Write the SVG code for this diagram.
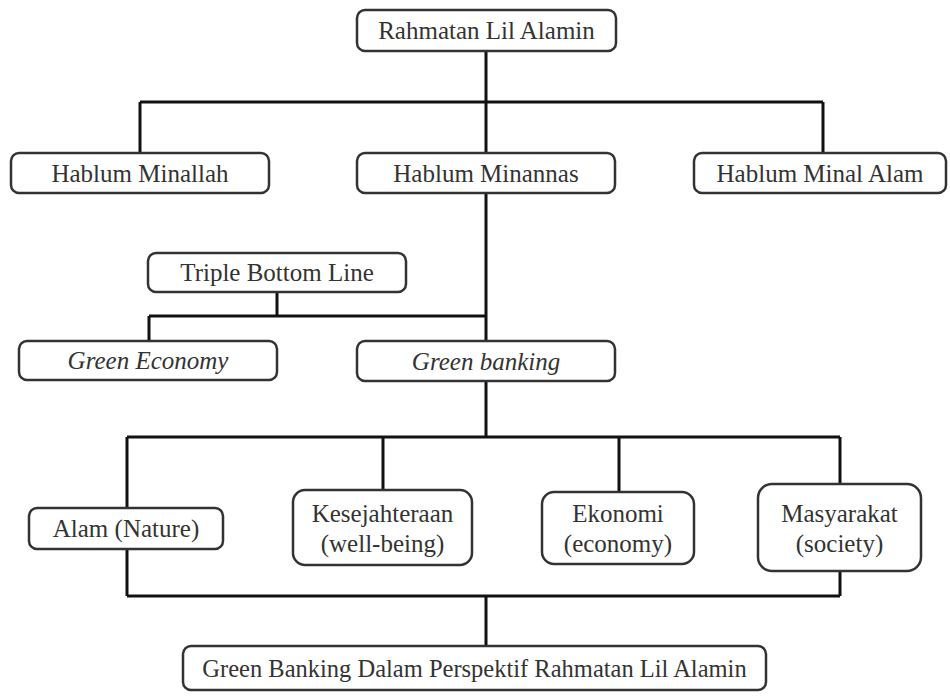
<svg xmlns="http://www.w3.org/2000/svg" width="950" height="700" viewBox="0 0 950 700">
<style>
.box{fill:#fff;stroke:#333;stroke-width:2.5}
.t{font-family:"Liberation Serif","Times New Roman",serif;font-size:25px;fill:#333;text-anchor:middle}
.i{font-style:italic}
.c{fill:none;stroke:#111;stroke-width:3}
</style>
<rect width="950" height="700" fill="#fff"/>
<g id="connectors">
<path class="c" d="M486 51V102M140 102H823M140 102V153M486 102V153M823 102V153"/>
<path class="c" d="M486 193V341M277 292V316M149 316H486M149 316V341"/>
<path class="c" d="M486 381V437M127 437H840M127 437V508M383 437V490M619 437V492M840 437V484"/>
<path class="c" d="M127 549V596M840 571V596M127 596H840M486 596V646"/>
</g>
<g id="n1"><rect class="box" x="357" y="10" width="259" height="41" rx="8"/><text class="t" x="486.5" y="39">Rahmatan Lil Alamin</text></g>
<g id="n2"><rect class="box" x="11" y="153" width="258" height="40" rx="8"/><text class="t" x="140" y="182">Hablum Minallah</text></g>
<g id="n3"><rect class="box" x="357" y="153" width="258" height="40" rx="8"/><text class="t" x="486" y="182">Hablum Minannas</text></g>
<g id="n4"><rect class="box" x="694" y="153" width="252" height="40" rx="8"/><text class="t" x="820" y="182">Hablum Minal Alam</text></g>
<g id="n5"><rect class="box" x="148" y="253" width="258" height="39" rx="8"/><text class="t" x="277" y="281">Triple Bottom Line</text></g>
<g id="n6"><rect class="box" x="19" y="341" width="258" height="39" rx="8"/><text class="t i" x="148" y="369">Green Economy</text></g>
<g id="n7"><rect class="box" x="357" y="341" width="258" height="40" rx="8"/><text class="t i" x="486" y="370">Green banking</text></g>
<g id="n8"><rect class="box" x="29" y="508" width="194" height="41" rx="8"/><text class="t" x="126" y="537">Alam (Nature)</text></g>
<g id="n9"><rect class="box" x="293" y="490" width="179" height="75" rx="12"/><text class="t" x="382.5" y="522">Kesejahteraan</text><text class="t" x="382.5" y="552">(well-being)</text></g>
<g id="n10"><rect class="box" x="542" y="492" width="152" height="72" rx="12"/><text class="t" x="618" y="522">Ekonomi</text><text class="t" x="618" y="552">(economy)</text></g>
<g id="n11"><rect class="box" x="758" y="484" width="163" height="87" rx="14"/><text class="t" x="839.5" y="522">Masyarakat</text><text class="t" x="839.5" y="552">(society)</text></g>
<g id="n12"><rect class="box" x="183" y="646" width="583" height="44" rx="8"/><text class="t" x="474.5" y="677" style="font-size:24.5px">Green Banking Dalam Perspektif Rahmatan Lil Alamin</text></g>
</svg>
